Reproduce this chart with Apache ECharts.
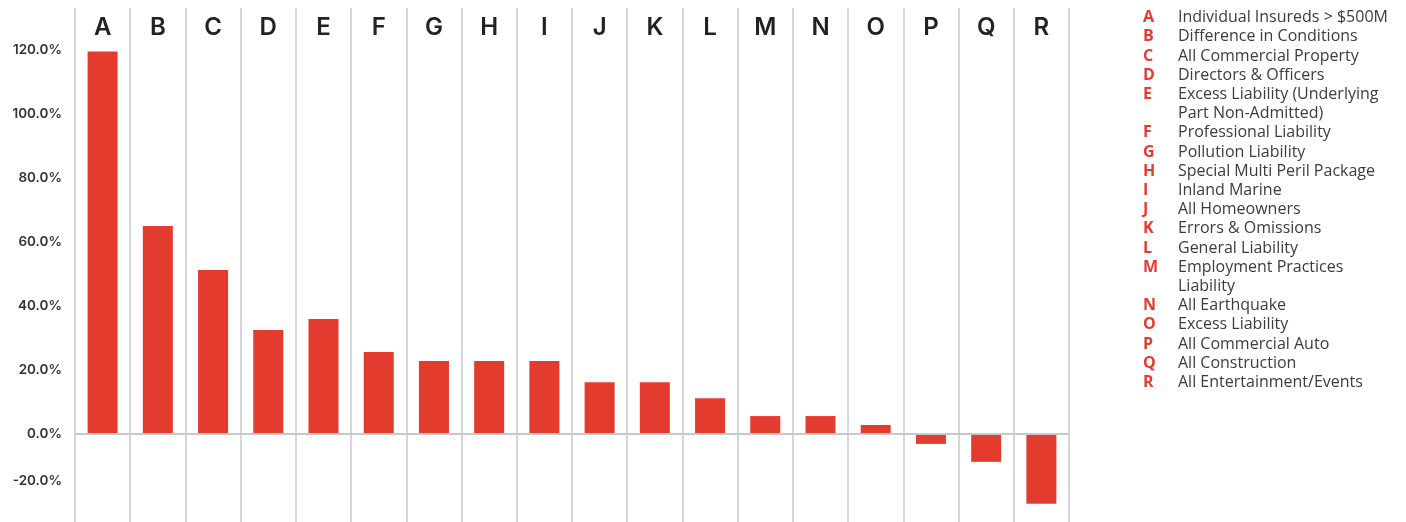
<!DOCTYPE html>
<html>
<head>
<meta charset="utf-8">
<script src="https://cdn.jsdelivr.net/npm/echarts@6/dist/echarts.min.js"></script>
<style>
html,body{margin:0;padding:0;background:#fff;}
#chart{width:1406px;height:522px;}
</style>
</head>
<body>
<div id="chart"></div>
<script>
const categories = ['A','B','C','D','E','F','G','H','I','J','K','L','M','N','O','P','Q','R'];
const values = [119.5, 65.0, 51.2, 32.5, 35.9, 25.6, 22.8, 22.8, 22.8, 16.2, 16.2, 11.2, 5.6, 5.6, 2.8, -3.1, -8.7, -21.8];
const descriptions = [
  'Individual Insureds > $500M',
  'Difference in Conditions',
  'All Commercial Property',
  'Directors & Officers',
  'Excess Liability (Underlying\nPart Non-Admitted)',
  'Professional Liability',
  'Pollution Liability',
  'Special Multi Peril Package',
  'Inland Marine',
  'All Homeowners',
  'Errors & Omissions',
  'General Liability',
  'Employment Practices\nLiability',
  'All Earthquake',
  'Excess Liability',
  'All Commercial Auto',
  'All Construction',
  'All Entertainment/Events'
];
const yTicks = [-20, 0, 20, 40, 60, 80, 100, 120];

const RED = '#E43B2F';
const letterLines = [];
const descLines = [];
categories.forEach((c, i) => {
  const parts = descriptions[i].split('\n');
  parts.forEach((p, j) => {
    letterLines.push(j === 0 ? c : ' ');
    descLines.push(p);
  });
});

const chart = echarts.init(document.getElementById('chart'));
chart.setOption({
  animation: false,
  grid: { left: 75, right: 337, top: 8, bottom: 0, containLabel: false },
  title: [
    {
      text: letterLines.join('\n'),
      left: 1143, top: 8, padding: 0,
      textStyle: { color: RED, fontFamily: 'Open Sans', fontWeight: 'bold', fontSize: 16, lineHeight: 19.2 }
    },
    {
      text: descLines.join('\n'),
      left: 1178, top: 8, padding: 0,
      textStyle: { color: '#3c3c3c', fontFamily: 'Open Sans', fontWeight: 'normal', fontSize: 16, lineHeight: 19.2 }
    }
  ],
  xAxis: {
    type: 'category',
    data: categories,
    position: 'top',
    boundaryGap: true,
    axisLine: { show: false, onZero: false },
    axisTick: { show: false },
    axisLabel: {
      inside: true, margin: 8,
      color: '#222', fontFamily: 'Inter', fontWeight: 600, fontSize: 24
    },
    splitLine: { show: true, lineStyle: { color: '#c8c8c8', width: 1.5 } }
  },
  yAxis: {
    type: 'value',
    min: -27.5, max: 133.1,
    axisLine: { show: false },
    axisTick: { show: false, customValues: yTicks },
    splitLine: { show: false },
    axisLabel: {
      customValues: yTicks,
      margin: 13,
      color: '#333', fontFamily: 'Inter', fontWeight: 600, fontSize: 13.5,
      formatter: function (v) {
        const t = v.toFixed(1) + '%';
        return v < 0 ? '{s|' + t + '}' : t;
      },
      rich: {
        s: { color: '#333', fontFamily: 'Inter', fontWeight: 600, fontSize: 13.5, padding: [0, 0, 34, 0] }
      }
    }
  },
  series: [{
    type: 'bar',
    data: values,
    barWidth: 30,
    itemStyle: { color: RED },
    markLine: {
      silent: true,
      symbol: ['none', 'none'],
      label: { show: false },
      lineStyle: { color: '#c8c8c8', width: 2, type: 'solid' },
      data: [{ yAxis: 0 }]
    }
  }]
});
</script>
</body>
</html>
